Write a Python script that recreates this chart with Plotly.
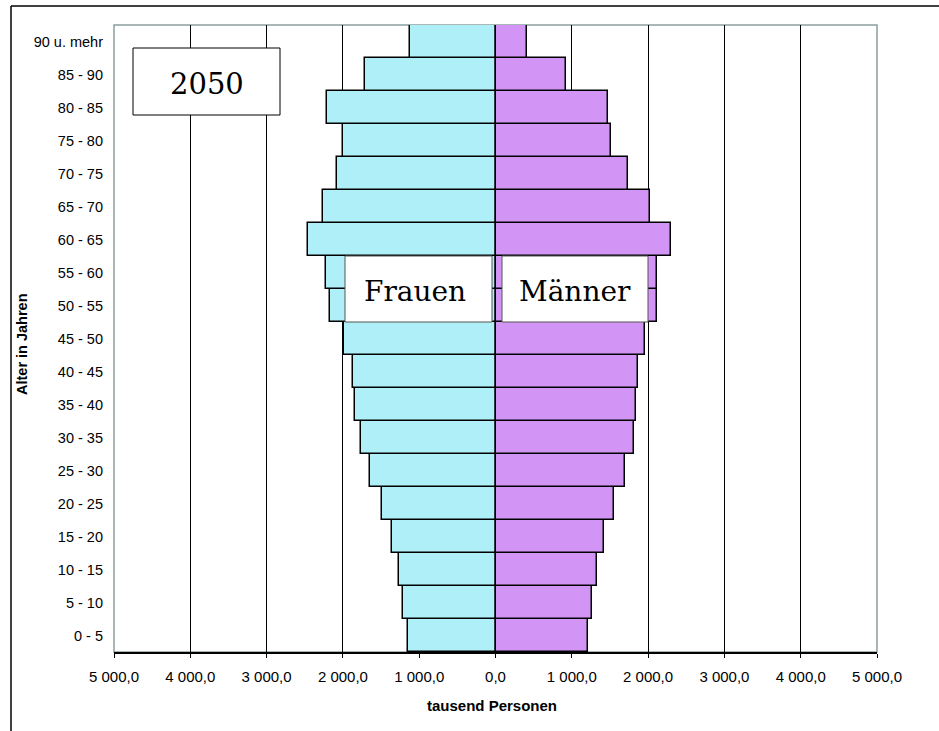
import plotly.graph_objects as go

# Age groups, bottom to top
age_groups = ["0 - 5", "5 - 10", "10 - 15", "15 - 20", "20 - 25", "25 - 30", "30 - 35",
              "35 - 40", "40 - 45", "45 - 50", "50 - 55", "55 - 60", "60 - 65", "65 - 70",
              "70 - 75", "75 - 80", "80 - 85", "85 - 90", "90 u. mehr"]

# Population in thousands, 2050
frauen = [1153, 1206, 1263, 1355, 1486, 1651, 1761, 1835, 1874, 1988, 2167, 2219,
          2460, 2259, 2075, 2001, 2202, 1708, 1123]
maenner = [1206, 1262, 1333, 1420, 1551, 1700, 1809, 1844, 1865, 1953, 2112, 2118,
           2302, 2027, 1734, 1512, 1477, 926, 415]

tick_vals = [-5000, -4000, -3000, -2000, -1000, 0, 1000, 2000, 3000, 4000, 5000]
tick_text = ["5 000,0", "4 000,0", "3 000,0", "2 000,0", "1 000,0", "0,0",
             "1 000,0", "2 000,0", "3 000,0", "4 000,0", "5 000,0"]

W, H = 939, 731
ML, MR, MT, MB = 114, 62, 25, 79
PW, PH = W - ML - MR, H - MT - MB


def px(x):
    return (x - ML) / PW


def py(y):
    return (H - MB - y) / PH


fig = go.Figure()
fig.add_trace(go.Bar(
    y=age_groups, x=[-v for v in frauen], orientation="h", name="Frauen",
    marker=dict(color="#AFEFF8", line=dict(color="#000000", width=1.5)),
    hoverinfo="skip"))
fig.add_trace(go.Bar(
    y=age_groups, x=maenner, orientation="h", name="Männer",
    marker=dict(color="#D294F5", line=dict(color="#000000", width=1.5)),
    hoverinfo="skip"))

shapes = [
    # plot area frame
    dict(type="rect", xref="paper", yref="paper", x0=0, x1=1, y0=0, y1=1,
         line=dict(color="#8C9E9E", width=1.5), layer="below"),
    # outer chart frame
    dict(type="line", xref="paper", yref="paper", x0=px(11), x1=px(11),
         y0=py(6), y1=py(740), line=dict(color="#000000", width=1.5)),
    dict(type="line", xref="paper", yref="paper", x0=px(11), x1=px(950),
         y0=py(6), y1=py(6), line=dict(color="#000000", width=1.5)),
]

# text boxes: label, left, right, top, bottom (pixels), font size
boxes = [("2050", 133, 280, 48, 115, 29),
         ("Frauen", 345, 492, 256, 322, 28),
         ("Männer", 502, 648, 256, 322, 28)]
annotations = []
for txt, x0, x1, y0, y1, fs in boxes:
    shapes.append(dict(type="rect", xref="paper", yref="paper",
                       x0=px(x0), x1=px(x1), y0=py(y1), y1=py(y0),
                       fillcolor="#FFFFFF",
                       line=dict(color="#000000" if txt == "2050" else "#555555", width=1),
                       layer="above"))
    xc = (x0 + x1) / 2 - (4 if txt == "Frauen" else 0)
    annotations.append(dict(text=txt, xref="paper", yref="paper",
                            x=px(xc), y=py((y0 + y1) / 2 + 2),
                            showarrow=False, xanchor="center", yanchor="middle",
                            font=dict(family="DejaVu Serif", size=fs, color="#000000")))

annotations.append(dict(text="<b>tausend Personen</b>", xref="paper", yref="paper",
                        x=px(492), y=py(705), showarrow=False,
                        xanchor="center", yanchor="middle",
                        font=dict(family="Liberation Sans", size=15, color="#000000")))
annotations.append(dict(text="<b>Alter in Jahren</b>", xref="paper", yref="paper",
                        x=px(22), y=py(344), showarrow=False, textangle=-90,
                        xanchor="center", yanchor="middle",
                        font=dict(family="Liberation Sans", size=14.5, color="#000000")))

fig.update_layout(
    width=W, height=H,
    margin=dict(l=ML, r=MR, t=MT, b=MB, pad=0),
    paper_bgcolor="#FFFFFF", plot_bgcolor="#FFFFFF",
    barmode="relative", bargap=0,
    showlegend=False,
    font=dict(family="Liberation Sans", size=14.5, color="#000000"),
    shapes=shapes, annotations=annotations,
    xaxis=dict(range=[-5000, 5000], tickvals=tick_vals, ticktext=tick_text,
               tickfont=dict(size=15),
               showgrid=True, gridcolor="#000000", gridwidth=1,
               zeroline=True, zerolinecolor="#000000", zerolinewidth=1.5,
               showline=True, linecolor="#000000", linewidth=1.5,
               ticks="outside", ticklen=4, tickcolor="#000000",
               ticklabelstandoff=6, fixedrange=True),
    yaxis=dict(showgrid=False, zeroline=False, showline=False,
               ticks="", ticklabelstandoff=10, fixedrange=True,
               categoryorder="array", categoryarray=age_groups),
)

fig.write_html("out.html")
